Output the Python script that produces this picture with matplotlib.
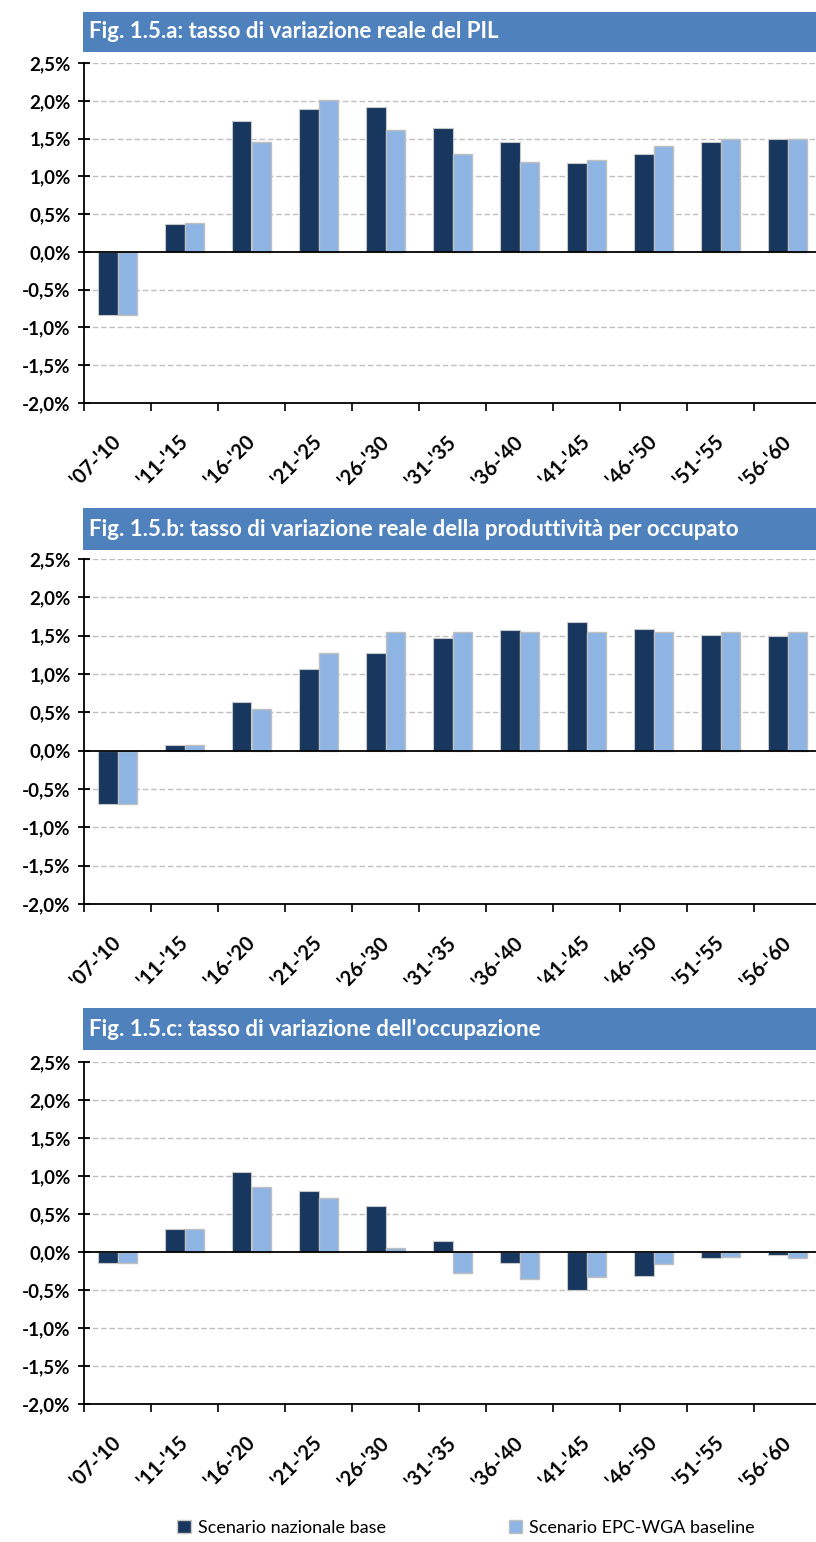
import matplotlib
matplotlib.use("Agg")
import matplotlib.pyplot as plt
from matplotlib.patches import Rectangle, Patch
import numpy as np

categories = ["'07-'10", "'11-'15", "'16-'20", "'21-'25", "'26-'30", "'31-'35",
              "'36-'40", "'41-'45", "'46-'50", "'51-'55", "'56-'60"]

pil_nazionale = [-0.83, 0.37, 1.73, 1.89, 1.92, 1.64, 1.45, 1.18, 1.30, 1.45, 1.50]
pil_epc = [-0.83, 0.38, 1.45, 2.01, 1.61, 1.30, 1.19, 1.21, 1.40, 1.50, 1.49]

prod_nazionale = [-0.70, 0.07, 0.63, 1.07, 1.28, 1.47, 1.57, 1.68, 1.59, 1.51, 1.49]
prod_epc = [-0.70, 0.07, 0.55, 1.28, 1.55, 1.55, 1.55, 1.55, 1.55, 1.55, 1.55]

occ_nazionale = [-0.14, 0.30, 1.05, 0.80, 0.61, 0.15, -0.14, -0.50, -0.31, -0.08, -0.04]
occ_epc = [-0.14, 0.30, 0.86, 0.71, 0.05, -0.27, -0.35, -0.33, -0.16, -0.06, -0.08]

titles = ["Fig. 1.5.a: tasso di variazione reale del PIL",
          "Fig. 1.5.b: tasso di variazione reale della produttività per occupato",
          "Fig. 1.5.c: tasso di variazione dell'occupazione"]
series_names = ["Scenario nazionale base", "Scenario EPC-WGA baseline"]
yticks = [-2.0, -1.5, -1.0, -0.5, 0.0, 0.5, 1.0, 1.5, 2.0, 2.5]

DARK = "#17375E"
LIGHT = "#8DB4E2"
TITLE_BG = "#4F81BD"
GRID = "#BFBFBF"

W, H = 816, 1542
fig = plt.figure(figsize=(W / 100, H / 100), dpi=100)
plt.rcParams['font.family'] = ['Lato', 'DejaVu Sans']

# (plot top px, plot bottom px, title top px, title bottom px)
layout = [(63, 403, 12, 52), (559, 904, 508, 550), (1062, 1404, 1008, 1050)]
data = [(pil_nazionale, pil_epc), (prod_nazionale, prod_epc), (occ_nazionale, occ_epc)]

left_px, right_px = 84, 821
x = np.arange(len(categories))
bw = 0.285

for (top, bot, ttop, tbot), (s1, s2), title in zip(layout, data, titles):
    ax = fig.add_axes([left_px / W, 1 - bot / H, (right_px - left_px) / W, (bot - top) / H])
    ax.set_ylim(-2.0, 2.5)
    ax.set_xlim(-0.5, len(categories) - 0.5)
    for yv in yticks:
        if yv not in (0.0, -2.0):
            ax.axhline(yv, color=GRID, lw=1.0, ls=(0, (4, 2)), zorder=0)
    ax.bar(x - bw / 2, s1, bw, color=DARK, edgecolor="#C8C8C8", linewidth=0.8, zorder=2)
    ax.bar(x + bw / 2, s2, bw, color=LIGHT, edgecolor="#C0C0C0", linewidth=1.0, zorder=2)
    ax.axhline(0, color="black", lw=1.3, zorder=3)
    for sp in ("top", "right"):
        ax.spines[sp].set_visible(False)
    ax.spines["left"].set_linewidth(1.3)
    ax.spines["bottom"].set_linewidth(1.3)
    ax.set_yticks(yticks)
    ax.set_yticklabels([("%.1f%%" % v).replace(".", ",") for v in yticks],
                       fontsize=13.5, fontweight="bold")
    ax.tick_params(axis="y", direction="inout", length=9, width=1.3, pad=5)
    ax.set_xticks(np.arange(-0.5, len(categories) - 0.5, 1.0))
    ax.set_xticklabels([])
    ax.tick_params(axis="x", which="major", direction="out", length=6, width=1.2)
    ax.set_xticks(x, minor=True)
    ax.set_xticklabels(categories, minor=True, rotation=45, ha="right", va="center",
                       rotation_mode="anchor", fontsize=14.5, fontweight="bold")
    ax.tick_params(axis="x", which="minor", length=0, pad=26)

    # title bar
    fig.patches.append(Rectangle((83 / W, 1 - tbot / H), (W - 83) / W, (tbot - ttop) / H,
                                 transform=fig.transFigure, facecolor=TITLE_BG,
                                 edgecolor="none", zorder=1))
    fig.text(89 / W, 1 - ((ttop + tbot) / 2) / H, title, color="white",
             fontsize=16, fontweight="bold", va="center", ha="left")

handles = [Patch(facecolor=DARK, edgecolor="#C8C8C8"), Patch(facecolor=LIGHT, edgecolor="#C0C0C0")]
fig.legend(handles, series_names, loc="center", bbox_to_anchor=(466 / W, 1 - 1528 / H),
           ncol=2, frameon=False, fontsize=13, handlelength=0.75, handleheight=0.75,
           handletextpad=0.4, columnspacing=6.8, borderpad=0.0)

fig.savefig("out.png", dpi=100)
